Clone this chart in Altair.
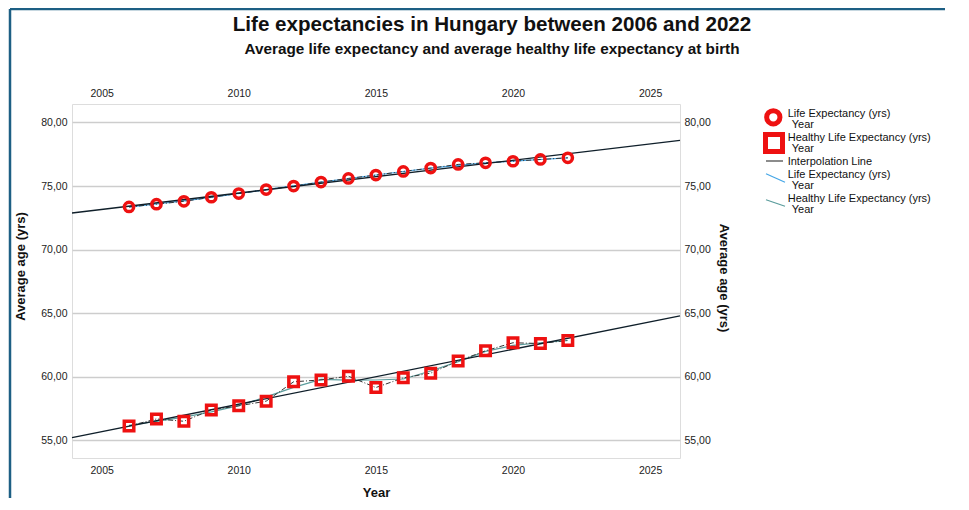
import altair as alt
import pandas as pd

# ---------------- data ----------------
years = [2006, 2007, 2008, 2009, 2010, 2011, 2012, 2013, 2014, 2015, 2016, 2017, 2018, 2019, 2020, 2021, 2022]
life = [73.36, 73.57, 73.80, 74.12, 74.41, 74.72, 75.00, 75.31, 75.60, 75.86, 76.15, 76.41, 76.70, 76.83, 76.95, 77.09, 77.22]
healthy = [56.14, 56.69, 56.51, 57.40, 57.72, 58.09, 59.61, 59.76, 60.05, 59.16, 59.92, 60.29, 61.24, 62.05, 62.68, 62.62, 62.86]
series_names = ["Life Expectancy (yrs)", "Healthy Life Expectancy (yrs)"]
x_ticks = [2005, 2010, 2015, 2020, 2025]
y_ticks = [55, 60, 65, 70, 75, 80]
x_domain = [2003.92, 2026.09]
y_domain = [53.62, 81.45]

title_text = "Life expectancies in Hungary between 2006 and 2022"
subtitle_text = "Average life expectancy and average healthy life expectancy at birth"
x_title = "Year"
y_title = "Average age (yrs)"
legend_sub = "Year"
legend_interp = "Interpolation Line"

FONT = "Liberation Sans"
RED = "#ee1111"
BLUE = "#45a6e6"
TEAL = "#5a9c9c"
FRAME = "#1d5f84"

df = pd.DataFrame({
    "Year": years + years,
    "Series": [series_names[0]] * len(years) + [series_names[1]] * len(years),
    "Value": life + healthy,
})
one = pd.DataFrame({"k": [0]})

xs = alt.Scale(domain=x_domain, nice=False, zero=False)
ys = alt.Scale(domain=y_domain, nice=False, zero=False)
label_expr = "replace(format(datum.value, '.2f'), '.', ',')"
common = dict(labelFont=FONT, labelFontSize=10.5, labelColor="#222222", ticks=False, domain=False)

bottom_axis = alt.Axis(orient="bottom", values=x_ticks, format="d", grid=False, labelPadding=7,
                       title=x_title, titleFont=FONT, titleFontSize=13, titleFontWeight="bold",
                       titleColor="#111111", titleY=34, titleBaseline="middle", **common)
top_axis = alt.Axis(orient="top", values=x_ticks, format="d", grid=False, labelPadding=6, title="", **common)
left_axis = alt.Axis(orient="left", values=y_ticks, labelExpr=label_expr, grid=True, gridColor="#cdcdcd",
                     gridWidth=1.3, labelPadding=5, title=y_title, titleFont=FONT, titleFontSize=13,
                     titleFontWeight="bold", titleColor="#111111", titleX=-52, titleY=162, titleAngle=270,
                     titleAlign="center", titleBaseline="middle", **common)
right_axis = alt.Axis(orient="right", values=y_ticks, labelExpr=label_expr, grid=False, labelPadding=4,
                      title=y_title, titleFont=FONT, titleFontSize=13, titleFontWeight="bold",
                      titleColor="#111111", titleX=43, titleY=173.5, titleAngle=90,
                      titleAlign="center", titleBaseline="middle", **common)

base = alt.Chart(df)

loess = base.transform_loess("Year", "Value", groupby=["Series"], bandwidth=0.35).mark_line(strokeWidth=1.2).encode(
    x=alt.X("Year:Q", scale=xs, axis=None),
    y=alt.Y("Value:Q", scale=ys, axis=None),
    color=alt.Color("Series:N", scale=alt.Scale(domain=series_names, range=[BLUE, TEAL]), legend=None),
)

interp = base.mark_line(strokeDash=[5, 2, 1, 2], color="#333333", strokeWidth=1).encode(
    x=alt.X("Year:Q", scale=xs, axis=None),
    y=alt.Y("Value:Q", scale=ys, axis=None),
    detail="Series:N",
)

reg = base.transform_regression("Year", "Value", groupby=["Series"], extent=x_domain).mark_line(
    color="#0f1f2a", strokeWidth=1.3).encode(
    x=alt.X("Year:Q", scale=xs, axis=bottom_axis),
    y=alt.Y("Value:Q", scale=ys, axis=left_axis),
    detail="Series:N",
)

pts_life = base.transform_filter(alt.datum.Series == series_names[0]).mark_point(
    shape="circle", filled=False, stroke=RED, strokeWidth=3.5, size=85, opacity=1).encode(
    x=alt.X("Year:Q", scale=xs, axis=top_axis),
    y=alt.Y("Value:Q", scale=ys, axis=right_axis),
)
pts_healthy = base.transform_filter(alt.datum.Series == series_names[1]).mark_point(
    shape="square", filled=False, stroke=RED, strokeWidth=3.5, size=90, opacity=1).encode(
    x=alt.X("Year:Q", scale=xs, axis=None),
    y=alt.Y("Value:Q", scale=ys, axis=None),
)


def txt(s, x, y, size=11, weight="normal", align="left"):
    return alt.Chart(one).mark_text(text=s, font=FONT, fontSize=size, fontWeight=weight, align=align,
                                    baseline="middle", color="#111111").encode(x=alt.value(x), y=alt.value(y))


def rule(x1, x2, y1, y2, color, width):
    return alt.Chart(one).mark_rule(color=color, strokeWidth=width).encode(
        x=alt.value(x1), x2=alt.value(x2), y=alt.value(y1), y2=alt.value(y2))


titles = [
    txt(title_text, 420, -79, size=20.6, weight="bold", align="center"),
    txt(subtitle_text, 420, -55, size=15.3, weight="bold", align="center"),
]

border = [
    rule(-62, -62, -95, 420, FRAME, 2.5),
    rule(-62, 873, -95, -95, FRAME, 2.5),
]

legend = [
    alt.Chart(one).mark_point(shape="circle", filled=False, stroke=RED, strokeWidth=5, size=177, opacity=1).encode(
        x=alt.value(701.3), y=alt.value(13.3)),
    alt.Chart(one).mark_point(shape="square", filled=False, stroke=RED, strokeWidth=5, size=289, opacity=1).encode(
        x=alt.value(702), y=alt.value(39)),
    txt(series_names[0], 715.7, 10.3), txt(legend_sub, 719.7, 21),
    txt(series_names[1], 715.7, 34.3), txt(legend_sub, 719.7, 44.5),
    rule(694, 711, 57, 57, "#666666", 1.5), txt(legend_interp, 715.7, 58),
    rule(694, 713, 69.7, 78.3, BLUE, 1.2), txt(series_names[0], 715.7, 71.3), txt(legend_sub, 719.7, 81.7),
    rule(694, 713, 95.7, 102.3, TEAL, 1.2), txt(series_names[1], 715.7, 95), txt(legend_sub, 719.7, 105.5),
]

chart = alt.layer(loess, interp, reg, pts_life, pts_healthy, *titles, *border, *legend).resolve_axis(
    x="independent", y="independent"
).properties(
    width=608, height=354,
    padding={"left": 64, "top": 96, "right": 273, "bottom": 40},
    autosize=alt.AutoSizeParams(type="none"),
).configure_view(stroke="#a6a6a6", strokeWidth=1.6).configure(background="white")

chart.save("out.html", embed_options={"renderer": "svg", "actions": False})
